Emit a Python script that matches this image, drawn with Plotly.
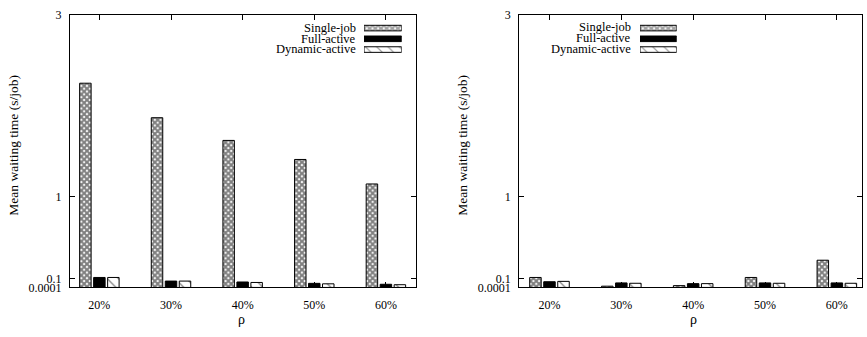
import plotly.graph_objects as go

categories = ["20%", "30%", "40%", "50%", "60%"]
series_names = ["Single-job", "Full-active", "Dynamic-active"]

left_single = [2.25, 1.87, 1.62, 1.41, 1.14]
left_full = [0.11, 0.07, 0.06, 0.045, 0.035]
left_dynamic = [0.11, 0.07, 0.055, 0.04, 0.03]

right_single = [0.11, 0.014, 0.02, 0.11, 0.30]
right_full = [0.063, 0.05, 0.042, 0.05, 0.05]
right_dynamic = [0.067, 0.046, 0.042, 0.046, 0.046]

y_tickvals = [0.0001, 0.1, 1, 3]
y_ticktext = ["0.0001", "0.1", "1", "3"]
y_title = "Mean waiting time (s/job)"
x_title = "ρ"

FONT = "Liberation Serif, Times New Roman, DejaVu Serif, serif"
W, H = 867, 337

styles = [
    dict(color="white", pattern=dict(shape="x", size=4, solidity=0.75, fgcolor="black", bgcolor="white", fillmode="overlay")),
    dict(color="black", pattern=dict(shape="", fgcolor="black")),
    dict(color="white", pattern=dict(shape="\\", size=8, solidity=0.15, fgcolor="black", bgcolor="white", fillmode="overlay")),
]


def px_x(p):
    return p / W


def px_y(p):
    return 1 - p / H


fig = go.Figure()

panels = [
    ("x", "y", [left_single, left_full, left_dynamic]),
    ("x2", "y2", [right_single, right_full, right_dynamic]),
]
for xa, ya, data in panels:
    for name, vals, st in zip(series_names, data, styles):
        fig.add_trace(go.Bar(
            x=categories, y=vals, name=name, xaxis=xa, yaxis=ya,
            marker=dict(color=st["color"], pattern=st["pattern"], line=dict(color="black", width=1)),
            showlegend=False,
        ))

# legend swatches (one trace per panel, drawn on small helper axes)
sw_shapes = [s["pattern"]["shape"] for s in styles]
sw_colors = [s["color"] for s in styles]
for xa, ya in [("x3", "y3"), ("x4", "y4")]:
    fig.add_trace(go.Bar(
        x=[1, 1, 1], y=series_names, orientation="h", xaxis=xa, yaxis=ya,
        width=0.52, showlegend=False, hoverinfo="skip",
        marker=dict(color=sw_colors, line=dict(color="black", width=1),
                    pattern=dict(shape=sw_shapes, size=[4, 8, 8], solidity=[0.75, 0.3, 0.15],
                                 fgcolor="black", bgcolor="white", fillmode="overlay")),
    ))

axis_common = dict(showline=True, mirror="ticks", linecolor="black", linewidth=1.2,
                   ticks="inside", ticklen=5, tickcolor="black", showgrid=False, zeroline=False,
                   tickfont=dict(family=FONT, size=12, color="black"))

ydom = [px_y(292.6), px_y(8.5)]
fig.update_layout(
    width=W, height=H, margin=dict(l=0, r=0, t=0, b=0),
    paper_bgcolor="white", plot_bgcolor="white",
    barmode="group", bargap=0.414, bargroupgap=0.18,
    font=dict(family=FONT, size=12, color="black"),
    xaxis=dict(domain=[px_x(70), px_x(416)], anchor="y", type="category",
               range=[-0.41, 4.42], ticklabelstandoff=6, **axis_common),
    yaxis=dict(domain=ydom, anchor="x", range=[0, 3], tickvals=y_tickvals, ticktext=y_ticktext,
               ticklabelstandoff=5, **axis_common),
    xaxis2=dict(domain=[px_x(519.3), px_x(862)], anchor="y2", type="category",
                range=[-0.42, 4.35], ticklabelstandoff=6, **axis_common),
    yaxis2=dict(domain=ydom, anchor="x2", range=[0, 3], tickvals=y_tickvals, ticktext=y_ticktext,
                ticklabelstandoff=5, **axis_common),
    xaxis3=dict(domain=[px_x(364), px_x(401.7)], anchor="y3", range=[0, 1], visible=False, fixedrange=True),
    yaxis3=dict(domain=[px_y(50), px_y(16.4)], anchor="x3", type="category", autorange="reversed",
                visible=False, fixedrange=True),
    xaxis4=dict(domain=[px_x(640), px_x(676.7)], anchor="y4", range=[0, 1], visible=False, fixedrange=True),
    yaxis4=dict(domain=[px_y(50), px_y(16.4)], anchor="x4", type="category", autorange="reversed",
                visible=False, fixedrange=True),
)

annotations = []
for x_text, rows in [(357.7, [22, 33, 44.3]), (632.7, [21, 32.5, 44])]:
    for name, yy in zip(series_names, rows):
        annotations.append(dict(x=px_x(x_text), y=px_y(yy), xref="paper", yref="paper",
                                text=name, showarrow=False, xanchor="right", yanchor="middle",
                                font=dict(family=FONT, size=12.5, color="black")))
for xc in [12.7, 461.7]:
    annotations.append(dict(x=px_x(xc), y=px_y(144), xref="paper", yref="paper", text=y_title,
                            textangle=-90, showarrow=False, xanchor="center", yanchor="middle",
                            font=dict(family=FONT, size=13.5, color="black")))
for xc in [241.7, 693]:
    annotations.append(dict(x=px_x(xc), y=px_y(326), xref="paper", yref="paper", text=x_title,
                            showarrow=False, xanchor="center", yanchor="middle",
                            font=dict(family=FONT, size=14, color="black")))
fig.update_layout(annotations=annotations)

fig.write_html("out.html")
